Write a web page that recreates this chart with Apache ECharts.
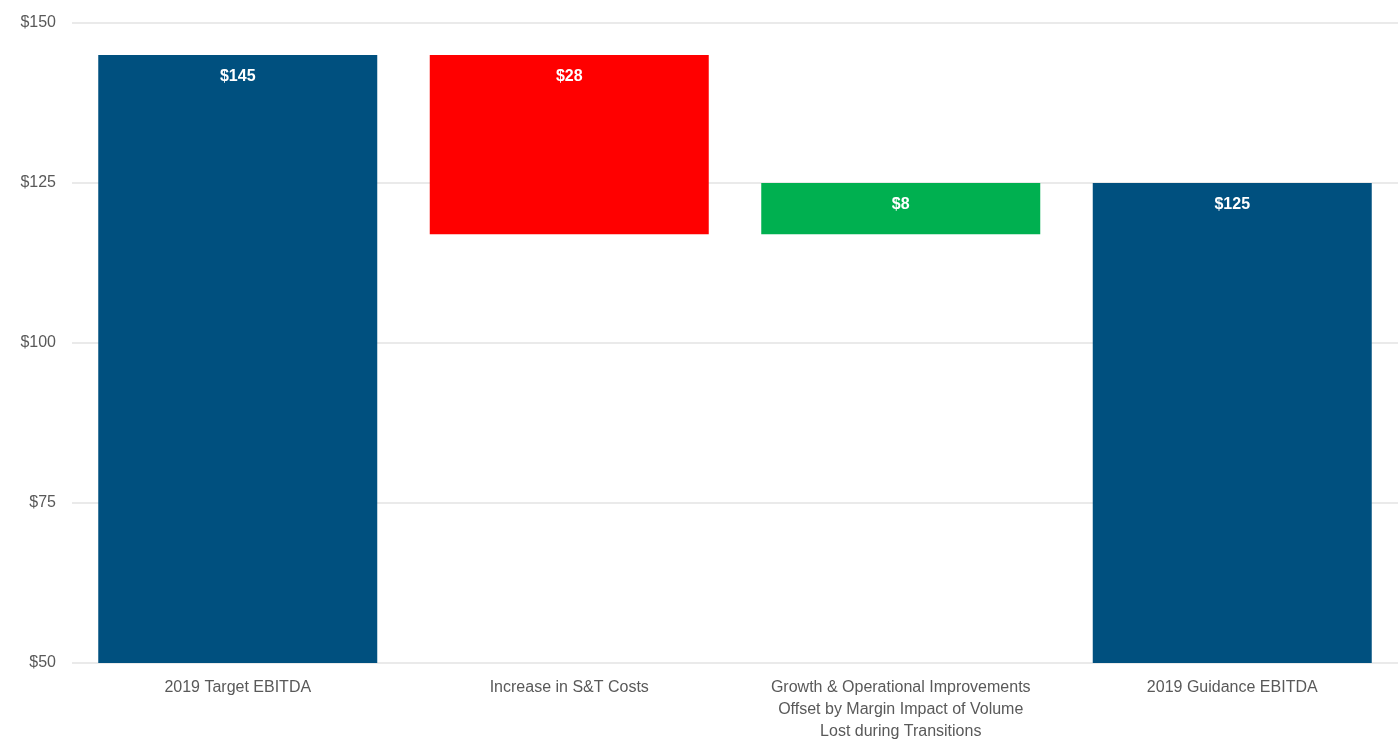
<!DOCTYPE html>
<html><head><meta charset="utf-8">
<script src="https://cdn.jsdelivr.net/npm/echarts@6/dist/echarts.min.js"></script>
<style>html,body{margin:0;padding:0;background:#fff}#c{width:1398px;height:743px}</style>
</head><body><div id="c"></div>
<script>
const categories = ['2019 Target EBITDA', 'Increase in S&T Costs', 'Growth & Operational Improvements\nOffset by Margin Impact of Volume\nLost during Transitions', '2019 Guidance EBITDA'];
const baseValues = [0, 117, 117, 0];
const barValues = [145, 28, 8, 125];
const barLabels = ['$145', '$28', '$8', '$125'];
const barColors = ['#00507f', '#ff0000', '#00b050', '#00507f'];
const yTicks = [50, 75, 100, 125, 150];

const chart = echarts.init(document.getElementById('c'));
chart.setOption({
  animation: false,
  grid: {left: 72, width: 1333, top: 23, height: 643, containLabel: false},
  xAxis: {
    type: 'category', data: categories,
    axisLine: {show: false}, axisTick: {show: false},
    axisLabel: {color: '#595959', fontSize: 16, fontFamily: 'Liberation Sans, Arial', lineHeight: 22, margin: 14, interval: 0}
  },
  yAxis: {
    type: 'value', min: yTicks[0], max: yTicks[yTicks.length-1], interval: 25,
    axisLine: {show: false}, axisTick: {show: false},
    splitLine: {lineStyle: {color: '#e3e3e3', width: 1.5}},
    axisLabel: {color: '#595959', fontSize: 16, fontFamily: 'Liberation Sans, Arial', margin: 16, formatter: v => '$' + v}
  },
  series: [
    {type: 'bar', stack: 'w', data: baseValues, itemStyle: {color: 'transparent'}, barWidth: 279, silent: true},
    {type: 'bar', stack: 'w', barWidth: 279,
     data: barValues.map((v, i) => ({value: v, itemStyle: {color: barColors[i]}})),
     label: {show: true, position: 'insideTop', distance: 14, color: '#fff', fontWeight: 'bold', fontSize: 16,
       fontFamily: 'Liberation Sans, Arial', formatter: p => barLabels[p.dataIndex]}}
  ]
});
</script></body></html>
